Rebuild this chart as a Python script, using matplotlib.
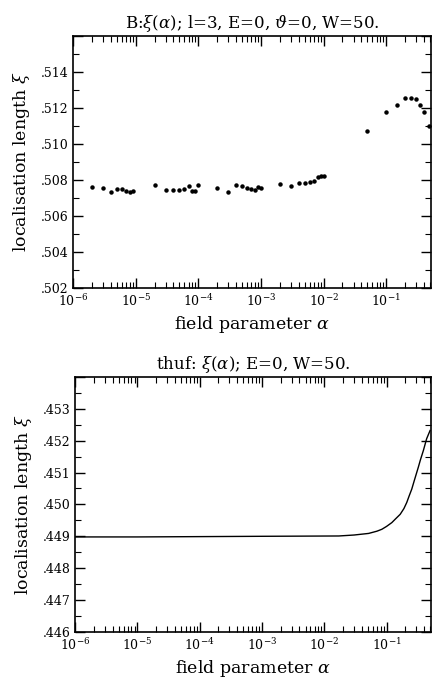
import numpy as np
import matplotlib
matplotlib.use("Agg")
import matplotlib.pyplot as plt
import matplotlib.ticker as plticker

plt.rcParams['font.family'] = 'DejaVu Serif'
plt.rcParams['mathtext.fontset'] = 'dejavuserif'

# top panel: scattered xi(alpha) values
alpha_top = [2e-6, 3e-6, 4e-6, 5e-6, 6e-6, 7e-6, 8e-6, 9e-6,
             2e-5, 3e-5, 4e-5, 5e-5, 6e-5, 7e-5, 8e-5, 9e-5, 1e-4,
             2e-4, 3e-4, 4e-4, 5e-4, 6e-4, 7e-4, 8e-4, 9e-4, 1e-3,
             2e-3, 3e-3, 4e-3, 5e-3, 6e-3, 7e-3, 8e-3, 9e-3, 1e-2,
             0.05, 0.1, 0.15, 0.2, 0.25, 0.3, 0.35, 0.4, 0.48]
xi_top = [.50763, .50754, .50735, .50748, .50752, .50742, .50735, .50742,
          .50772, .50746, .50746, .50746, .50748, .50765, .50742, .50742, .50770,
          .50754, .50733, .50770, .50765, .50754, .50748, .50746, .50760, .50754,
          .50780, .50768, .50781, .50785, .50787, .50794, .50818, .50825, .50824,
          .51074, .51176, .51215, .51255, .51255, .51250, .51218, .51176, .51098]

# bottom panel: smooth curve
alpha_bot = [1e-6, 1e-5, 1e-4, 1e-3, 0.0171, 0.03, 0.0515, 0.07, 0.084, 0.1,
             0.1216, 0.14, 0.1656, 0.19, 0.211, 0.23, 0.254, 0.28, 0.324,
             0.35, 0.39, 0.44, 0.50]
xi_bot = [.44898, .44898, .44899, .44900, .44901, .44904, .44909, .44916, .44922, .44931,
          .44943, .44955, .44969, .44987, .45006, .45026, .45048, .45076, .45117,
          .45140, .45169, .45206, .45232]

fig = plt.figure(figsize=(4.32, 6.78), dpi=100)
ax1 = fig.add_axes([0.169, 0.575, 0.829, 0.372])
ax2 = fig.add_axes([0.174, 0.068, 0.824, 0.376])

ax1.plot(alpha_top, xi_top, 'o', color='black', markersize=2.2)
ax2.plot(alpha_bot, xi_bot, '-', color='black', linewidth=1.0)

def make_fmt(top):
    def dotfmt(v, pos):
        if abs(v - top) < 1e-7:
            return ""
        s = "{:.3f}".format(v)
        return s[1:] if s.startswith("0") else s
    return dotfmt

for ax, ylo, yhi, ymin_step in [(ax1, .502, .516, .001), (ax2, .446, .454, .0005)]:
    ax.set_xscale('log')
    ax.set_xlim(1e-6, 0.52)
    ax.set_ylim(ylo, yhi)
    ax.xaxis.set_major_locator(plticker.LogLocator(base=10, numticks=10))
    ax.xaxis.set_minor_locator(plticker.LogLocator(base=10, subs=np.arange(2, 10), numticks=20))
    ax.xaxis.set_minor_formatter(plticker.NullFormatter())
    ax.yaxis.set_minor_locator(plticker.MultipleLocator(ymin_step))
    ax.yaxis.set_major_formatter(plticker.FuncFormatter(make_fmt(yhi)))
    ax.tick_params(which='both', direction='in', top=True, right=True, labelsize=9)
    ax.tick_params(which='major', length=7, width=1)
    ax.tick_params(which='minor', length=4, width=0.8)
    for sp in ax.spines.values():
        sp.set_linewidth(1.2)
    ax.set_xlabel(r"field parameter $\alpha$", fontsize=12.5)
    ax.set_ylabel(r"localisation length $\xi$", fontsize=12.5, labelpad=6)

ax1.yaxis.set_major_locator(plticker.MultipleLocator(.002))
ax2.yaxis.set_major_locator(plticker.MultipleLocator(.001))

ax1.set_title(r"B:$\xi(\alpha)$; l=3, E=0, $\vartheta$=0, W=50.", fontsize=12)
ax2.set_title(r"thuf: $\xi(\alpha)$; E=0, W=50.", fontsize=12)

plt.savefig("out.png", dpi=100)
plt.close()
